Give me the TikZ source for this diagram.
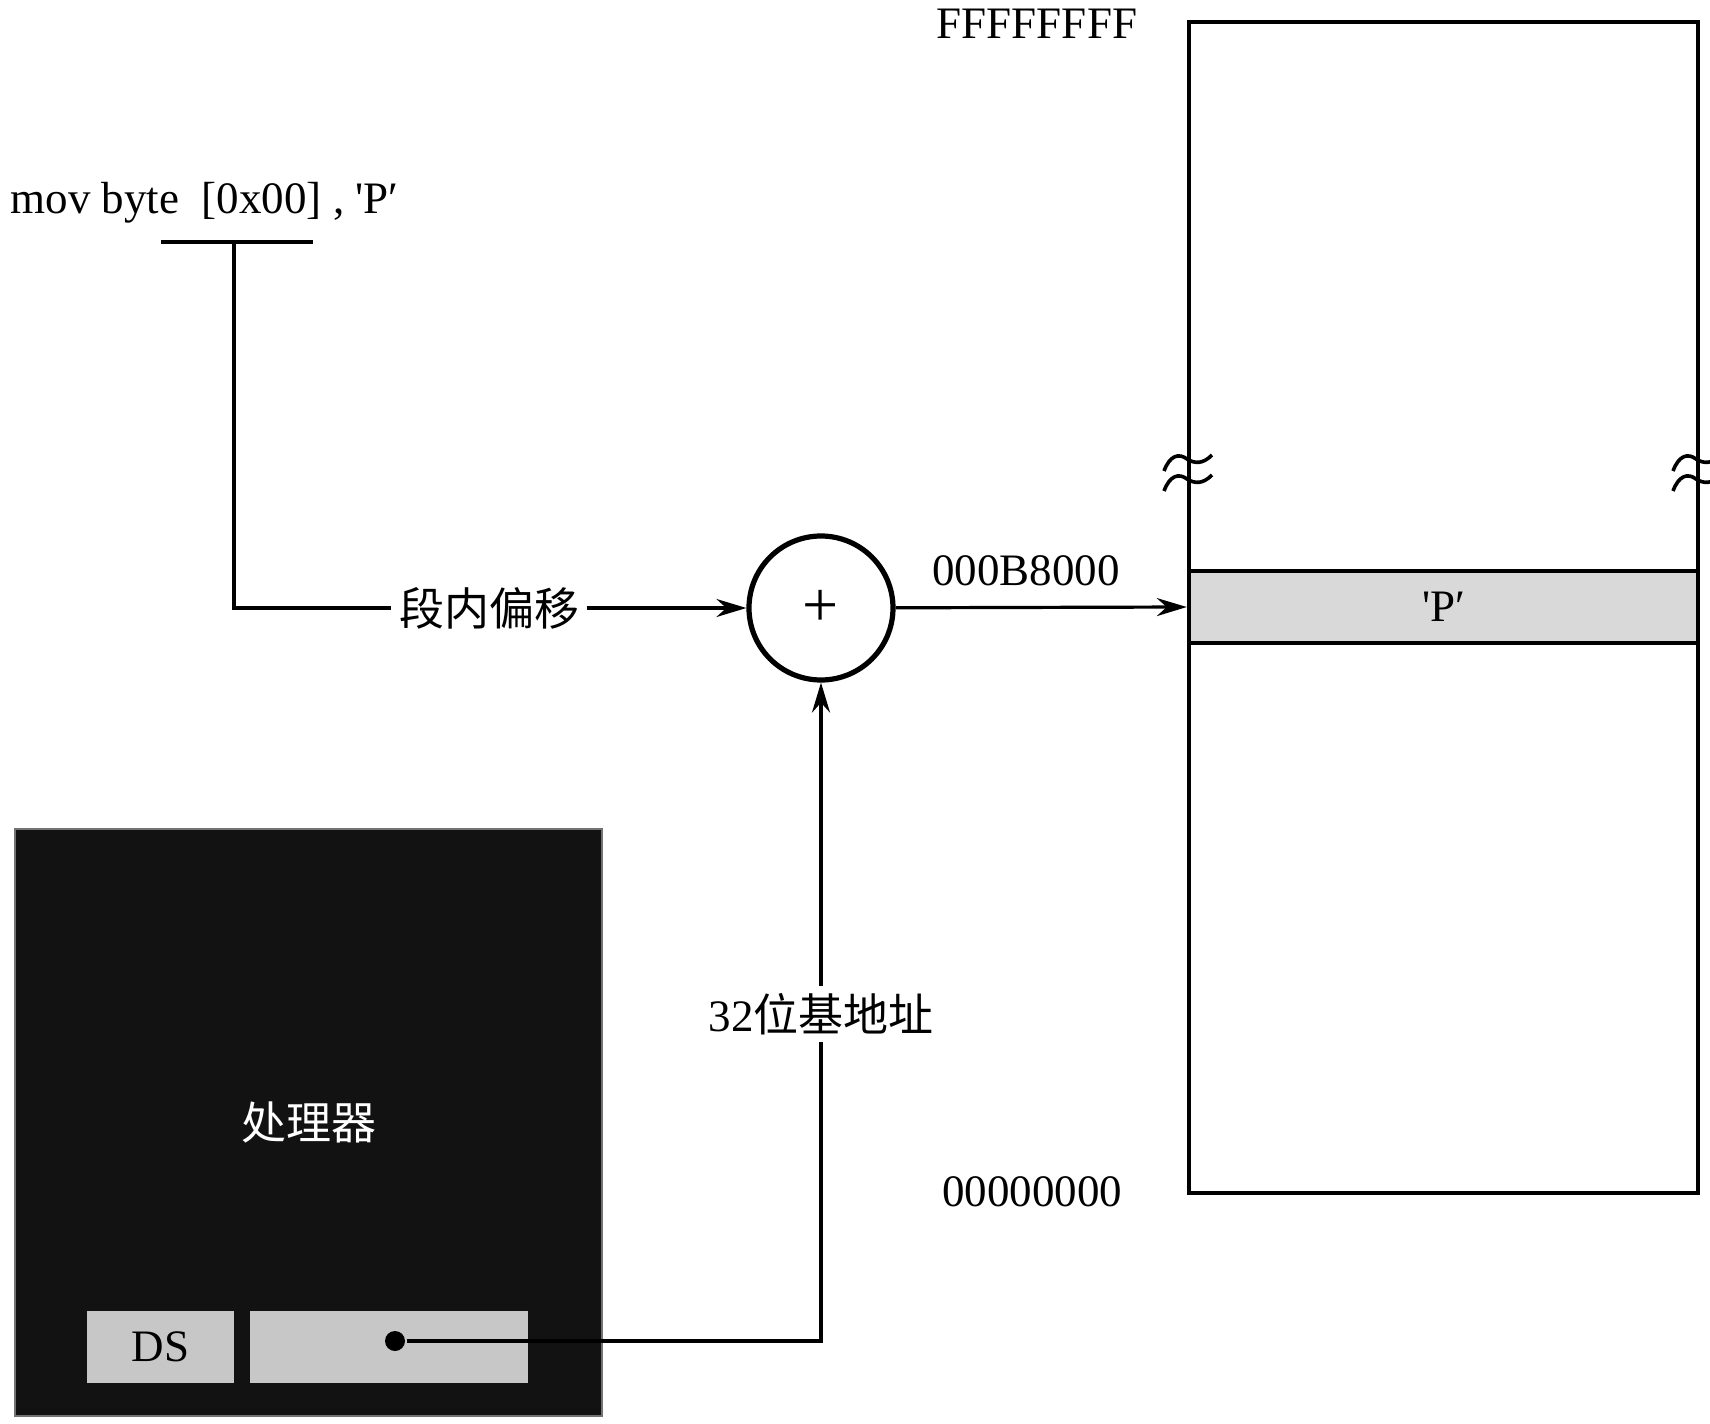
\documentclass[tikz,border=0pt]{standalone}
\usepackage{fontspec}
\setmainfont{Liberation Serif}
\newfontfamily\cjk{Noto Sans CJK SC}
\newfontfamily\rawserif{Liberation Serif}
\usetikzlibrary{arrows.meta}
\newcommand{\tick}{{\rawserif'}}

\begin{document}
\begin{tikzpicture}[x=0.5pt,y=-0.5pt,line width=1.6pt,
    >={Stealth[length=15pt,width=9pt,inset=5pt]},
    every node/.style={font=\fontsize{22.5}{27}\selectfont},
    lbl/.style={fill=white,inner sep=3pt},
    cellbox/.style={draw,fill=black!15,line width=2.2pt,minimum width=254.5pt,%
      minimum height=36pt,inner sep=0pt},
    regbox/.style={fill=black!22,minimum height=36pt,inner sep=0pt},
    brk/.style={line width=1.8pt}]
  \useasboundingbox (0,0) rectangle (1710,1424) ;
  % instruction
  \node[anchor=west,inner sep=0pt] (instr) at (9,203) {mov byte\ \ [0x00] , \tick P′} ;
  \coordinate (ul) at (161,242) ;
  \coordinate (ur) at (313,242) ;
  \coordinate (tap) at (234,242) ;
  \draw (ul)--(ur) ;
  % adder
  \node[lbl] (ofs) at (489,608) {\cjk 段内偏移} ;
  \node[draw,circle,line width=2.6pt,minimum size=72pt,inner sep=0pt,%
    font=\fontsize{32}{32}\selectfont] (adder) at (821,608) {+} ;
  \draw (tap) |- (ofs) ;
  \draw[->] (ofs)--(adder) ;
  % memory
  \node[draw,minimum width=254.5pt,minimum height=585.5pt,inner sep=0pt] %
    (mem) at (1443.5,607.5) {} ;
  \node[cellbox] (cell) at (1443.5,607) {\tick P′} ;
  \node (hi) at (1037,24) {FFFFFFFF} ;
  \node (lo) at (1032,1192) {00000000} ;
  \node (addr) at (1026,571) {000B8000} ;
  \draw[->] (adder)--(cell.west) ;
  \foreach \bx in {1189,1698}
    \foreach \by in {462,482}
      \draw[brk] (\bx-25,\by+9) .. controls (\bx-19,\by-7) and (\bx-10,\by-9) .. (\bx-2,\by-3)
        .. controls (\bx+6,\by+2) and (\bx+14,\by+2) .. (\bx+23,\by-7) ;
  % processor
  \node[fill=black!93,draw=black!55,line width=0.8pt,minimum size=293.5pt,%
    inner sep=0pt,text=white] (cpu) at (308.5,1122.5) {\cjk 处理器} ;
  \node[regbox,minimum width=73.5pt] (ds) at (160.5,1347) {DS} ;
  \node[regbox,minimum width=139pt] (dsval) at (389,1347) {} ;
  \node[fill=black,circle,inner sep=0pt,minimum size=10pt] (dot) at (395,1341) {} ;
  \node[lbl] (base) at (821,1014) {32\cjk 位基地址} ;
  \draw (dot) -| (base) ;
  \draw[->] (base)--(adder) ;
\end{tikzpicture}
\end{document}
